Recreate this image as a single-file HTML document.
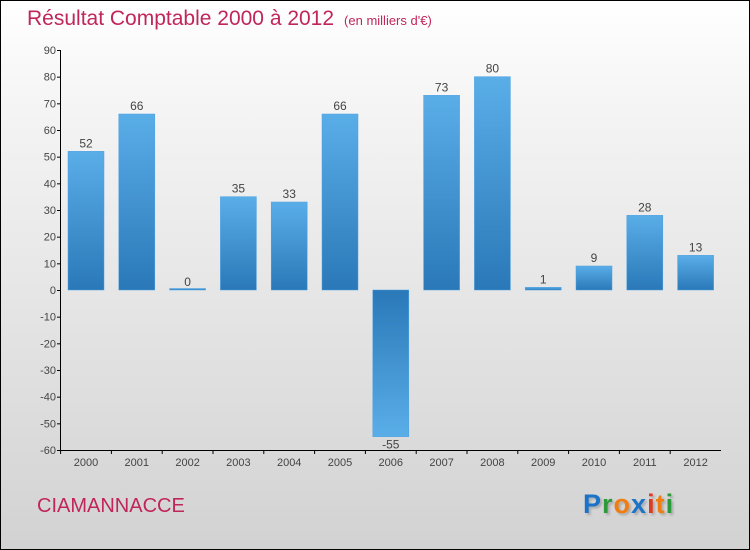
<!DOCTYPE html>
<html><head><meta charset="utf-8"><style>
body{margin:0;}
#wrap{position:relative;width:748px;height:548px;border:1px solid #000;background:linear-gradient(#ffffff,#f4f4f4 20%,#d2d2d2);font-family:"Liberation Sans",sans-serif;overflow:hidden}
#title{position:absolute;left:26px;top:6px;font-size:21px;color:#c0265a;white-space:nowrap}
#title span{font-size:13px;margin-left:10px}
#town{position:absolute;left:36px;top:494px;font-size:20px;color:#c0265a}
#logo{position:absolute;left:582px;top:488px;font-size:27px;font-weight:bold;letter-spacing:1px;text-shadow:2px 2px 2px #aaa}
</style></head><body>
<div id="wrap">
<div id="title">Résultat Comptable 2000 à 2012<span>(en milliers d'€)</span></div>
<svg id="chart" width="748" height="548" style="position:absolute;left:0;top:0"></svg>
<div id="town">CIAMANNACCE</div>
<div id="logo"><span style="color:#1a73c8">P</span><span style="color:#2a9a3a">r</span><span style="color:#f07d10">o</span><span style="color:#1a73c8">x</span><span style="color:#e03a20">i</span><span style="color:#f07d10">t</span><span style="color:#2a9a3a">i</span></div>
</div>
<script>
const categories=["2000","2001","2002","2003","2004","2005","2006","2007","2008","2009","2010","2011","2012"];
const values=[52,66,0,35,33,66,-55,73,80,1,9,28,13];
const tickValues=[90,80,70,60,50,40,30,20,10,0,-10,-20,-30,-40,-50,-60];
const svg=document.getElementById('chart');
const NS='http://www.w3.org/2000/svg';
const yMin=-60,yMax=90,yTop=49,yBot=449;
const y=v=>yBot-(v-yMin)/(yMax-yMin)*(yBot-yTop);
const x0=85,step=50.8,bw=36;
const x=i=>x0+i*step;
function mk(t,a){const e=document.createElementNS(NS,t);for(const k in a)e.setAttribute(k,a[k]);svg.appendChild(e);return e;}
const defs=mk('defs',{});
defs.innerHTML='<linearGradient id="gp" x1="0" y1="0" x2="0" y2="1"><stop offset="0" stop-color="#5aaee8"/><stop offset="1" stop-color="#2a78b8"/></linearGradient><linearGradient id="gn" x1="0" y1="0" x2="0" y2="1"><stop offset="0" stop-color="#2a78b8"/><stop offset="1" stop-color="#5aaee8"/></linearGradient>';
let ax=mk('line',{x1:59.5,y1:yTop,x2:59.5,y2:yBot,stroke:'#000'});

let bx=mk('line',{x1:59.5,y1:yBot+0.5,x2:720,y2:yBot+0.5,stroke:'#000'});

tickValues.forEach(v=>{
 const t=mk('line',{x1:56,y1:y(v)+0.5,x2:60,y2:y(v)+0.5,stroke:'#000'});
 
 const l=mk('text',{x:55,y:y(v)+4,'text-anchor':'end','font-size':11,fill:'#444'});
 l.textContent=v;
 
});
categories.forEach((c,i)=>{
 const v=values[i];
 const top=v>=0?y(v):y(0),h=Math.max(Math.abs(y(v)-y(0)),1.5);
 const r=mk('rect',{x:x(i)-bw/2,y:v>=0?top-(h-Math.abs(y(v)-y(0))):top,width:bw,height:h,fill:v>=0?'url(#gp)':'url(#gn)',stroke:'#4aa0e0','stroke-width':0.5});
 
 const vl=mk('text',{x:x(i),y:v>=0?y(v)-4:y(v)+12,'text-anchor':'middle','font-size':12,fill:'#444'});
 vl.textContent=v;
 
 const tk=mk('line',{x1:x(i)-step/2,y1:yBot,x2:x(i)-step/2,y2:yBot+4,stroke:'#000'});
 
 const xl=mk('text',{x:x(i),y:465,'text-anchor':'middle','font-size':11,fill:'#444'});
 xl.textContent=c;
 
});
</script>
</body></html>
